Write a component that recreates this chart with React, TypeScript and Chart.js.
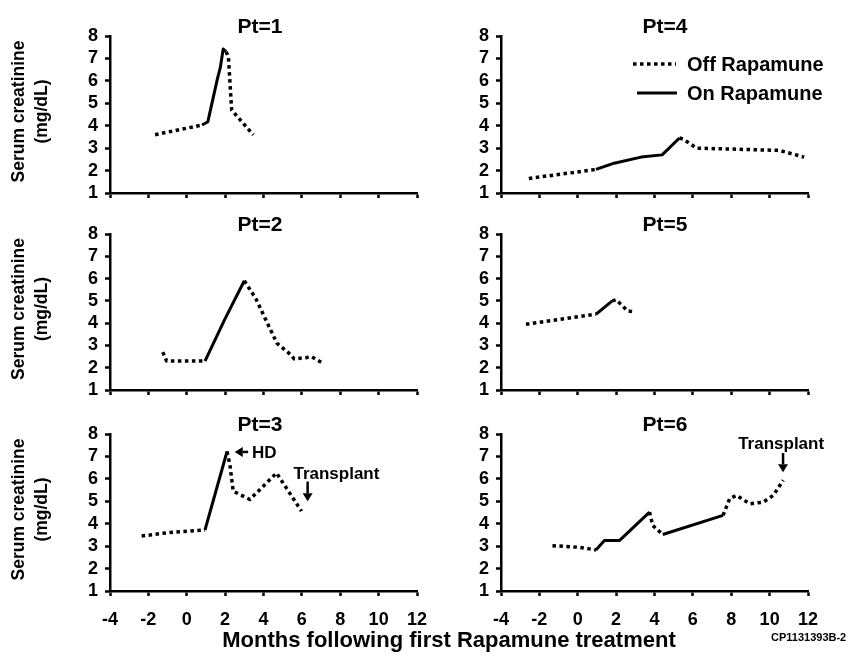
import React, { useEffect, useRef } from 'react';
import { Chart, registerables } from 'chart.js';

Chart.register(...registerables);

type Pt = [number, number];

const FONT = '"Liberation Sans", Arial, sans-serif';

// ---- axes ----
const X_MIN = -4;
const X_MAX = 12;
const X_STEP = 2;
const Y_MIN = 1;
const Y_MAX = 8;
const Y_STEP = 1;

const Y_TITLE = ['Serum creatinine', '(mg/dL)'];
const X_TITLE = 'Months following first Rapamune treatment';
const FIG_ID = 'CP1131393B-2';
const LEGEND_OFF = 'Off Rapamune';
const LEGEND_ON = 'On Rapamune';

// ---- data: [month, serum creatinine] ----
const pt1Off1: Pt[] = [[-1.65, 3.6], [0.8, 4.03]];
const pt1On1: Pt[] = [[0.8, 4.03], [1.1, 4.18], [1.6, 6.1], [1.75, 6.6], [1.9, 7.42], [2.05, 7.3]];
const pt1Off2: Pt[] = [[2.05, 7.3], [2.17, 7.08], [2.34, 4.7], [3.47, 3.59]];

const pt2Off1: Pt[] = [[-1.25, 2.7], [-1.05, 2.3], [0.95, 2.3]];
const pt2On1: Pt[] = [[0.95, 2.3], [2.0, 4.2], [3.0, 5.9]];
const pt2Off2: Pt[] = [[3.0, 5.9], [3.6, 5.1], [4.2, 4.0], [4.7, 3.1], [5.4, 2.6], [5.6, 2.4], [6.2, 2.45], [6.5, 2.5], [7.1, 2.2]];

const pt3Off1: Pt[] = [[-2.35, 3.45], [-1.0, 3.6], [0.95, 3.72]];
const pt3On1: Pt[] = [[0.95, 3.72], [2.1, 7.22]];
const pt3Off2: Pt[] = [[2.1, 7.22], [2.25, 6.63], [2.42, 5.45], [3.29, 5.08], [4.68, 6.26], [5.98, 4.56]];

const pt4Off1: Pt[] = [[-2.55, 1.65], [0.95, 2.05]];
const pt4On1: Pt[] = [[0.95, 2.05], [1.9, 2.33], [3.3, 2.6], [4.4, 2.7], [5.3, 3.45]];
const pt4Off2: Pt[] = [[5.3, 3.45], [5.5, 3.4], [6.2, 3.0], [10.5, 2.9], [11.8, 2.6]];

const pt5Off1: Pt[] = [[-2.7, 3.95], [0.95, 4.4]];
const pt5On1: Pt[] = [[0.95, 4.4], [1.45, 4.75], [1.8, 5.0]];
const pt5Off2: Pt[] = [[1.8, 5.0], [2.0, 5.05], [2.3, 4.8], [2.6, 4.55], [2.95, 4.5]];

const pt6Off1: Pt[] = [[-1.32, 3.02], [0.08, 2.95], [0.95, 2.83]];
const pt6On1: Pt[] = [[0.95, 2.83], [1.39, 3.25], [2.17, 3.25], [3.74, 4.52]];
const pt6Off2: Pt[] = [[3.74, 4.52], [3.91, 3.92], [4.43, 3.52]];
const pt6On2: Pt[] = [[4.43, 3.52], [7.57, 4.37]];
const pt6Off3: Pt[] = [[7.57, 4.37], [7.92, 5.12], [8.27, 5.26], [8.97, 4.89], [9.66, 4.96], [10.19, 5.26], [10.71, 5.94]];

// ---- annotations (in data units) ----
interface Note { text: string; tip: Pt; tail: Pt; textAt: Pt; align: CanvasTextAlign }
const pt3Notes: Note[] = [
  { text: 'HD', tip: [2.5, 7.2], tail: [3.2, 7.2], textAt: [3.4, 7.2], align: 'left' },
  { text: 'Transplant', tip: [6.3, 5.0], tail: [6.3, 5.88], textAt: [7.8, 6.27], align: 'center' },
];
const pt6Notes: Note[] = [
  { text: 'Transplant', tip: [10.7, 6.3], tail: [10.7, 7.15], textAt: [10.6, 7.6], align: 'center' },
];

interface Seg { data: Pt[]; on: boolean }
interface PanelSpec {
  title: string;
  segs: Seg[];
  left: number; top: number; width: number; height: number;
  yWidth: number; xHeight: number; padTop: number; padRight: number;
  showXLabels: boolean; showYTitle: boolean; titleX: number;
  legend?: boolean;
  notes?: Note[];
}

const LEFT = { left: 0, width: 430, yWidth: 110, padRight: 13, showYTitle: true, titleX: 3.82 };
const RIGHT = { left: 425, width: 424, yWidth: 76, padRight: 41, showYTitle: false, titleX: 4.55 };
const ROW1 = { top: 0, height: 205, padTop: 36, xHeight: 12, showXLabels: false };
const ROW2 = { top: 205, height: 205, padTop: 29, xHeight: 20, showXLabels: false };
const ROW3 = { top: 410, height: 247, padTop: 24, xHeight: 66, showXLabels: true };

const panels: PanelSpec[] = [
  { ...LEFT, ...ROW1, title: 'Pt=1', segs: [{ data: pt1Off1, on: false }, { data: pt1On1, on: true }, { data: pt1Off2, on: false }] },
  { ...RIGHT, ...ROW1, title: 'Pt=4', legend: true, segs: [{ data: pt4Off1, on: false }, { data: pt4On1, on: true }, { data: pt4Off2, on: false }] },
  { ...LEFT, ...ROW2, title: 'Pt=2', segs: [{ data: pt2Off1, on: false }, { data: pt2On1, on: true }, { data: pt2Off2, on: false }] },
  { ...RIGHT, ...ROW2, title: 'Pt=5', segs: [{ data: pt5Off1, on: false }, { data: pt5On1, on: true }, { data: pt5Off2, on: false }] },
  { ...LEFT, ...ROW3, title: 'Pt=3', notes: pt3Notes, segs: [{ data: pt3Off1, on: false }, { data: pt3On1, on: true }, { data: pt3Off2, on: false }] },
  { ...RIGHT, ...ROW3, title: 'Pt=6', notes: pt6Notes, segs: [{ data: pt6Off1, on: false }, { data: pt6On1, on: true }, { data: pt6Off2, on: false }, { data: pt6On2, on: true }, { data: pt6Off3, on: false }] },
];

const DOT_DASH = [3.5, 3.5];
const DOT_WIDTH = 3.5;
const SOLID_WIDTH = 3;

function drawArrow(ctx: CanvasRenderingContext2D, x1: number, y1: number, x2: number, y2: number) {
  const dx = x2 - x1, dy = y2 - y1;
  const len = Math.hypot(dx, dy) || 1;
  const ux = dx / len, uy = dy / len;
  const head = 8, half = 5;
  const bx = x2 - ux * head, by = y2 - uy * head;
  ctx.beginPath();
  ctx.lineWidth = 2.5;
  ctx.setLineDash([]);
  ctx.moveTo(x1, y1);
  ctx.lineTo(bx, by);
  ctx.stroke();
  ctx.beginPath();
  ctx.moveTo(x2, y2);
  ctx.lineTo(bx - uy * half, by + ux * half);
  ctx.lineTo(bx + uy * half, by - ux * half);
  ctx.closePath();
  ctx.fill();
}

function makeDeco(spec: PanelSpec) {
  return {
    id: 'panelDeco',
    afterDraw(chart: any) {
      const { ctx, chartArea, scales } = chart;
      const xs = scales.x, ys = scales.y;
      ctx.save();
      ctx.fillStyle = '#000';
      ctx.strokeStyle = '#000';
      // panel title
      ctx.font = `bold 21px ${FONT}`;
      ctx.textAlign = 'center';
      ctx.textBaseline = 'alphabetic';
      ctx.fillText(spec.title, xs.getPixelForValue(spec.titleX), chartArea.top - 3.5);
      // y title
      if (spec.showYTitle) {
        const cy = (chartArea.top + chartArea.bottom) / 2 - 3;
        ctx.save();
        ctx.translate(0, cy);
        ctx.rotate(-Math.PI / 2);
        ctx.font = `bold 17.5px ${FONT}`;
        ctx.textAlign = 'center';
        ctx.fillText(Y_TITLE[0], 0, 24.3);
        ctx.fillText(Y_TITLE[1], 0, 47);
        ctx.restore();
      }
      // legend
      if (spec.legend) {
        const yOff = ys.getPixelForValue(6.75);
        const yOn = ys.getPixelForValue(5.46);
        ctx.beginPath();
        ctx.lineWidth = DOT_WIDTH;
        ctx.setLineDash(DOT_DASH);
        ctx.moveTo(xs.getPixelForValue(2.88), yOff);
        ctx.lineTo(xs.getPixelForValue(5.12), yOff);
        ctx.stroke();
        ctx.beginPath();
        ctx.lineWidth = SOLID_WIDTH;
        ctx.setLineDash([]);
        ctx.moveTo(xs.getPixelForValue(3.09), yOn);
        ctx.lineTo(xs.getPixelForValue(5.17), yOn);
        ctx.stroke();
        ctx.font = `bold 20px ${FONT}`;
        ctx.textAlign = 'left';
        ctx.fillText(LEGEND_OFF, xs.getPixelForValue(5.69), yOff + 7.2);
        ctx.fillText(LEGEND_ON, xs.getPixelForValue(5.69), yOn + 7.2);
      }
      // annotations
      for (const n of spec.notes || []) {
        drawArrow(ctx, xs.getPixelForValue(n.tail[0]), ys.getPixelForValue(n.tail[1]), xs.getPixelForValue(n.tip[0]), ys.getPixelForValue(n.tip[1]));
        ctx.font = `bold 17px ${FONT}`;
        ctx.textAlign = n.align;
        ctx.fillText(n.text, xs.getPixelForValue(n.textAt[0]), ys.getPixelForValue(n.textAt[1]) + 6.1);
      }
      ctx.restore();
    },
  };
}

function Panel({ spec }: { spec: PanelSpec }) {
  const ref = useRef<HTMLCanvasElement>(null);
  useEffect(() => {
    const tickFont = { family: FONT, size: 18, weight: 'bold' as const };
    const grid = { display: true, drawOnChartArea: false, drawTicks: true, tickLength: 5, tickColor: '#000', tickWidth: 2.5 };
    const border = { display: true, color: '#000', width: 2.5 };
    const chart = new Chart(ref.current as HTMLCanvasElement, {
      type: 'line',
      data: {
        datasets: spec.segs.map((s) => ({
          data: s.data.map(([x, y]) => ({ x, y })),
          borderColor: '#000',
          backgroundColor: '#000',
          borderWidth: s.on ? SOLID_WIDTH : DOT_WIDTH,
          borderDash: s.on ? [] : DOT_DASH,
          borderCapStyle: 'butt',
          borderJoinStyle: 'round',
          pointRadius: 0,
          tension: 0,
          fill: false,
        })),
      },
      options: {
        animation: false,
        responsive: false,
        events: [],
        layout: { padding: { top: spec.padTop, right: spec.padRight, bottom: 0, left: 0 } },
        plugins: { legend: { display: false }, tooltip: { enabled: false }, title: { display: false } },
        scales: {
          x: {
            type: 'linear',
            min: X_MIN,
            max: X_MAX,
            ticks: { stepSize: X_STEP, display: spec.showXLabels, font: tickFont, color: '#000', padding: 13, maxRotation: 0, autoSkip: false },
            grid,
            border,
            afterFit: (s: any) => {
              s.height = spec.xHeight;
              s.paddingLeft = 0;
              s.paddingRight = 0;
            },
          },
          y: {
            type: 'linear',
            min: Y_MIN,
            max: Y_MAX,
            ticks: { stepSize: Y_STEP, font: tickFont, color: '#000', padding: 7, autoSkip: false },
            grid,
            border,
            afterFit: (s: any) => {
              s.width = spec.yWidth;
              s.paddingTop = 0;
              s.paddingBottom = 0;
            },
          },
        },
      } as any,
      plugins: [makeDeco(spec)],
    });
    return () => chart.destroy();
  }, [spec]);
  return (
    <canvas
      ref={ref}
      width={spec.width}
      height={spec.height}
      style={{ position: 'absolute', left: spec.left, top: spec.top, width: spec.width, height: spec.height }}
    />
  );
}

export default function App() {
  return (
    <div style={{ position: 'absolute', left: 0, top: 0, width: 849, height: 657, background: '#fff', overflow: 'hidden' }}>
      {panels.map((p) => <Panel key={p.title} spec={p} />)}
      <div style={{ position: 'absolute', left: 0, width: 898, top: 629, textAlign: 'center', font: `bold 22px/22px ${FONT}`, color: '#000', whiteSpace: 'nowrap' }}>
        {X_TITLE}
      </div>
      <div style={{ position: 'absolute', left: 771, top: 632, font: `bold 11px/11px ${FONT}`, color: '#000', whiteSpace: 'nowrap' }}>
        {FIG_ID}
      </div>
    </div>
  );
}
